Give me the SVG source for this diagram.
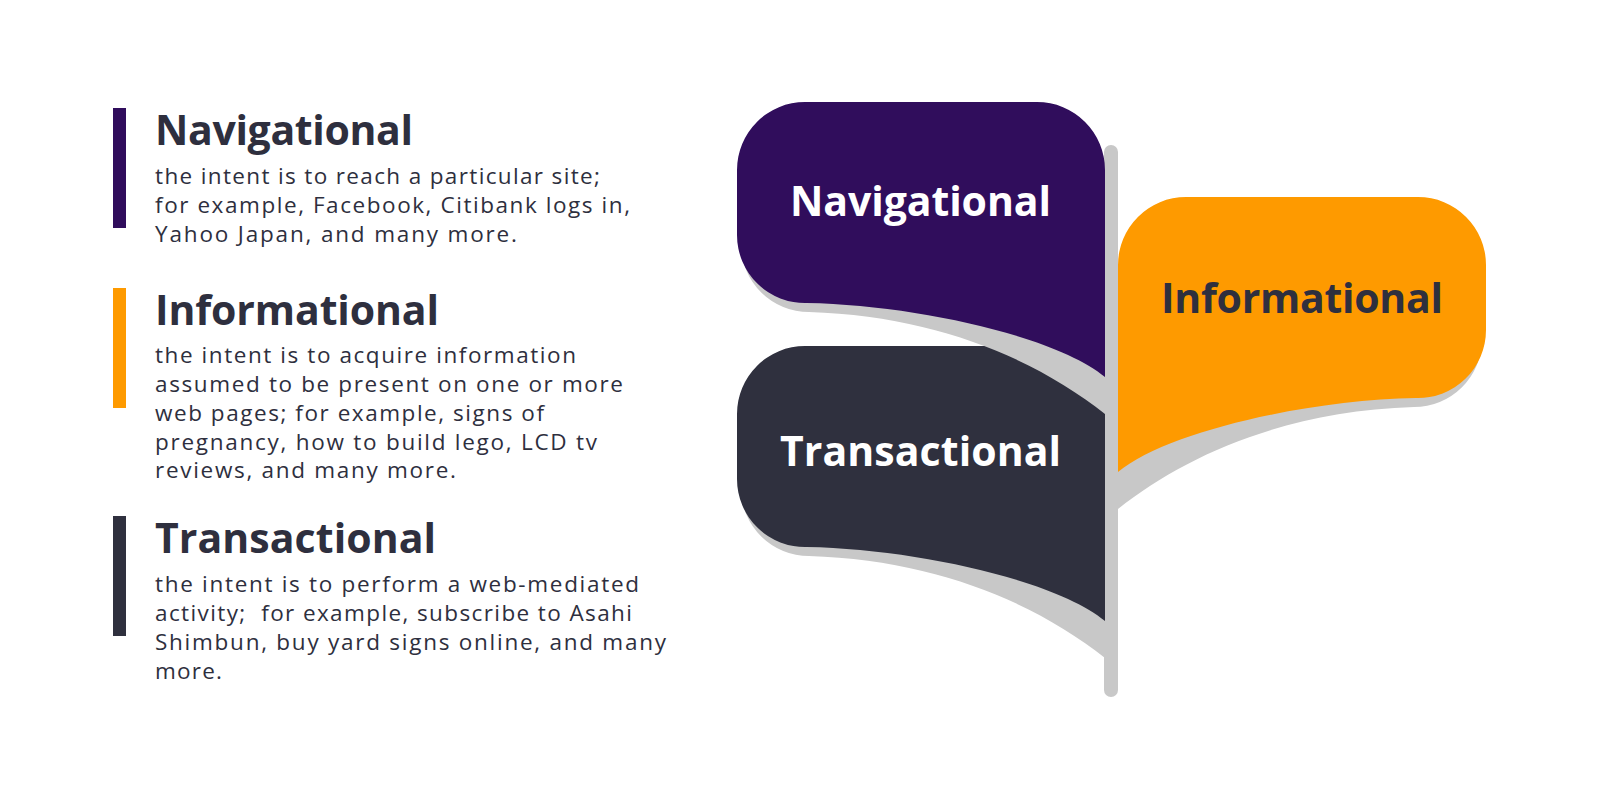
<svg xmlns="http://www.w3.org/2000/svg" width="1600" height="800" viewBox="0 0 1600 800">
  <style>
    .head { font-family: "Open Sans", "Noto Sans", "Liberation Sans", sans-serif; font-weight: 700; font-size: 41px; fill: #2e2f3e; }
    .body { font-family: "Open Sans", "Noto Sans", "Liberation Sans", sans-serif; font-weight: 400; font-size: 22.5px; fill: #2e2f3e; }
    .lbl { font-family: "Open Sans", "Noto Sans", "Liberation Sans", sans-serif; font-weight: 700; font-size: 41px; text-anchor: middle; }
    .shadow { fill: #c8c8c8; }
    .stem { fill: #c8c8c8; }
  </style>
  <defs>
    <path id="flag" d="M 0,68 A 68,68 0 0 1 68,0 L 300,0 A 68,68 0 0 1 368,68 L 368,275 C 320,235 180,203 70,201 A 68,68 0 0 1 0,133 Z"/>
    <path id="flagShadow" d="M 4,80 L 4,143 A 68,68 0 0 0 72,210 C 200,214 300,258 368,312 L 368,80 Z"/>
  </defs>
  <rect width="1600" height="800" fill="#ffffff"/>

  <!-- Left legend -->
  <g id="legend-navigational">
    <rect x="113" y="108" width="13" height="120" fill="#300d5c"/>
    <text class="head" x="155" y="145" textLength="258">Navigational</text>
    <text class="body" x="155" y="184" textLength="445">the intent is to reach a particular site;</text>
    <text class="body" x="155" y="213" textLength="475">for example, Facebook, Citibank logs in,</text>
    <text class="body" x="155" y="242" textLength="362">Yahoo Japan, and many more.</text>
  </g>
  <g id="legend-informational">
    <rect x="113" y="288" width="13" height="120" fill="#fe9a00"/>
    <text class="head" x="155" y="325" textLength="284">Informational</text>
    <text class="body" x="155" y="363" textLength="421">the intent is to acquire information</text>
    <text class="body" x="155" y="392" textLength="468">assumed to be present on one or more</text>
    <text class="body" x="155" y="421" textLength="389">web pages; for example, signs of</text>
    <text class="body" x="155" y="450" textLength="442">pregnancy, how to build lego, LCD tv</text>
    <text class="body" x="155" y="478" textLength="301">reviews, and many more.</text>
  </g>
  <g id="legend-transactional">
    <rect x="113" y="516" width="13" height="120" fill="#2f303e"/>
    <text class="head" x="155" y="553" textLength="281">Transactional</text>
    <text class="body" x="155" y="592" textLength="484">the intent is to perform a web-mediated</text>
    <text class="body" x="155" y="621" textLength="477" xml:space="preserve">activity;  for example, subscribe to Asahi</text>
    <text class="body" x="155" y="650" textLength="511">Shimbun, buy yard signs online, and many</text>
    <text class="body" x="155" y="679" textLength="67">more.</text>
  </g>

  <!-- Spine -->
  <g id="connectors">
    <rect class="stem" x="1104" y="145" width="14" height="552" rx="7"/>
  </g>

  <!-- Right flags -->
  <g id="node-transactional">
    <g transform="translate(737,346)">
      <use href="#flagShadow" class="shadow"/>
      <use href="#flag" fill="#2f303e"/>
    </g>
    <text class="lbl" x="920.5" y="466" fill="#ffffff" textLength="281">Transactional</text>
  </g>
  <g id="node-navigational">
    <g transform="translate(737,102)">
      <use href="#flagShadow" class="shadow"/>
      <use href="#flag" fill="#300d5c"/>
    </g>
    <text class="lbl" x="920.5" y="216" fill="#ffffff" textLength="261">Navigational</text>
  </g>
  <g id="node-informational">
    <g transform="translate(1486,197) scale(-1,1)">
      <use href="#flagShadow" class="shadow"/>
      <use href="#flag" fill="#fe9a00"/>
    </g>
    <text class="lbl" x="1302" y="313" fill="#2e2f3e" textLength="282">Informational</text>
  </g>
</svg>
